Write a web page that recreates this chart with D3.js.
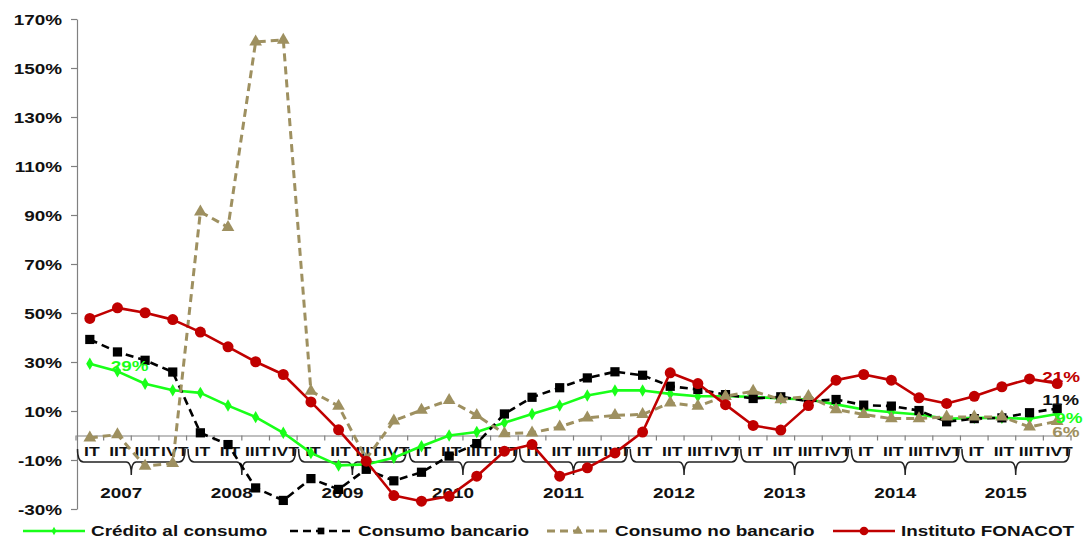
<!DOCTYPE html>
<html><head><meta charset="utf-8">
<script src="https://cdn.jsdelivr.net/npm/d3@7"></script>
<style>
body{margin:0;background:#fff}
svg{display:block}
text{font-family:"Liberation Sans",Arial,sans-serif;font-weight:bold;fill:#111}
</style></head><body>
<svg id="c" width="1086" height="540"></svg>
<script>
// ---- data ----
const years = ["2007","2008","2009","2010","2011","2012","2013","2014","2015"];
const quarters = ["IT","IIT","IIIT","IVT"];
const yTicks = [-30,-10,10,30,50,70,90,110,130,150,170];
const seriesNames = ["Crédito al consumo","Consumo bancario","Consumo no bancario","Instituto FONACOT"];
const credito = [29.3,26.2,21.1,18.5,17.4,12.2,7.5,1.1,-7.1,-12.2,-11.8,-9.1,-4.4,0.0,1.4,5.2,8.8,12.2,16.3,18.4,18.4,17.0,16.0,16.0,15.8,15.1,14.7,12.7,10.6,9.5,8.6,6.8,7.2,7.2,6.8,8.8];
const bancario = [39.2,34.1,30.7,25.9,1.1,-3.7,-21.4,-26.5,-17.6,-22.0,-13.8,-18.5,-15.0,-8.4,-3.3,8.8,15.6,19.5,23.5,26.0,24.6,20.1,18.8,16.7,15.1,15.8,14.0,14.7,12.4,12.0,10.2,5.6,6.9,7.2,9.3,11.0];
const noBancario = [-1.0,0.4,-12.5,-11.4,91.3,85.0,160.7,161.4,18.1,12.0,-9.5,6.0,10.4,14.4,8.2,0.8,1.1,3.5,7.2,8.2,8.6,13.3,12.0,16.0,18.1,14.7,16.0,10.6,8.6,6.9,6.9,7.6,7.6,7.6,3.5,5.8];
const fonacot = [47.8,52.1,50.1,47.3,42.2,36.2,30.1,24.9,13.7,2.3,-10.5,-24.5,-26.8,-24.8,-16.6,-6.4,-3.7,-16.6,-13.2,-7.1,1.4,25.6,21.2,12.6,4.1,2.2,12.2,22.6,24.9,22.6,15.4,13.1,16.0,19.9,23.1,21.2];

// ---- layout ----
const SX = 1.35;
const svg = d3.select("#c");
const n = credito.length;
const x = d3.scaleBand().domain(d3.range(n)).range([76,1071]).padding(0);
const bw = x.bandwidth();
const cx = i => x(i) + bw/2;
const y = d3.scaleLinear().domain([-30,170]).range([509,19]);
const y0 = y(0);

// y axis
const ya = svg.append("g").attr("transform","translate(77,0)")
  .call(d3.axisLeft(y).tickValues(yTicks).tickSize(6).tickSizeOuter(0).tickFormat(d=>d+"%"));
ya.attr("font-family",null).attr("font-size",null);
ya.select(".domain").attr("stroke","#808080").attr("stroke-width",1.2);
ya.selectAll(".tick line").attr("stroke","#808080").attr("stroke-width",1.2);
ya.selectAll(".tick text").attr("x",0).attr("dy","0.36em")
  .attr("transform",`translate(-15,0) scale(${SX},1)`).style("font-size","14px").style("fill","#111");

// x axis at zero
const xa = svg.append("g").attr("transform",`translate(0,${y0})`)
  .call(d3.axisBottom(x).tickSize(0).tickSizeOuter(0).tickFormat(i=>quarters[i%4]));
xa.attr("font-family",null).attr("font-size",null);
xa.select(".domain").attr("stroke","#808080").attr("stroke-width",1.2);
xa.selectAll(".tick text").attr("y",0).attr("dy",null)
  .attr("transform",`translate(2,20.5) scale(${SX},1)`).style("font-size","13px").style("fill","#111");
// boundary ticks
const bounds = d3.range(n+1).map(i => i<n ? x(i) : x(n-1)+bw);
svg.append("g").selectAll("line").data(bounds).join("line")
  .attr("x1",d=>d).attr("x2",d=>d).attr("y1",y0).attr("y2",y0+5)
  .attr("stroke","#808080").attr("stroke-width",1.2);

// year braces
const bg = svg.append("g");
years.forEach((yr,g)=>{
  const a = x(g*4)+1.5, b = x(g*4+3)+bw-1.5, m = (a+b)/2;
  const top = 449, mid = 462, tip = 475;
  const p = `M${a},${top} Q${a},${mid} ${a+6},${mid} L${m-5},${mid} Q${m},${mid} ${m},${tip} Q${m},${mid} ${m+5},${mid} L${b-6},${mid} Q${b},${mid} ${b},${top}`;
  bg.append("path").attr("d",p).attr("fill","none").attr("stroke","#222").attr("stroke-width",1.5);
  bg.append("text").attr("text-anchor","middle")
    .attr("transform",`translate(${m-10},498) scale(${SX},1)`).style("font-size","14px").text(yr);
});

// series
const styles = [
  {data:credito,   color:"#19ff19", dash:null,  width:2.6, sym:d3.symbolDiamond, size:45},
  {data:bancario,  color:"#000000", dash:"8,5", width:2.6, sym:d3.symbolSquare,  size:85},
  {data:noBancario,color:"#9e9060", dash:"8,5", width:3,   sym:d3.symbolTriangle,size:70},
  {data:fonacot,   color:"#c00000", dash:null,  width:2.6, sym:d3.symbolCircle,  size:95}
];
const line = d3.line().x((d,i)=>cx(i)).y(d=>y(d));
styles.forEach(s=>{
  const g = svg.append("g");
  g.append("path").attr("d",line(s.data)).attr("fill","none").attr("stroke",s.color)
    .attr("stroke-width",s.width).attr("stroke-dasharray",s.dash).attr("stroke-linejoin","round");
  g.selectAll("path.m").data(s.data).join("path").attr("class","m")
    .attr("d",d3.symbol(s.sym,s.size)).attr("fill",s.color)
    .attr("transform",(d,i)=>`translate(${cx(i)},${y(d)})`);
});

// data labels
function lab(txt,color,px,py,anchor){
  svg.append("text").attr("text-anchor",anchor||"start")
    .attr("transform",`translate(${px},${py}) scale(${SX},1)`)
    .style("font-size","14px").style("fill",color).text(txt);
}
const last = n-1;
lab(Math.round(credito[0])+"%", "#19ff19", cx(0)+21, y(credito[0])+7);
lab(Math.round(fonacot[last])+"%", "#c00000", cx(last)-15, y(fonacot[last])-2);
lab(Math.round(bancario[last])+"%", "#111", cx(last)-15, y(bancario[last])-4);
lab(Math.round(credito[last])+"%", "#19ff19", cx(last)-2, y(credito[last])+9);
lab(Math.round(noBancario[last])+"%", "#9e9060", cx(last)-5, y(noBancario[last])+16);

// legend
const legX = [23,290,547,833];
const legMk = [20,45,40,60];
const ly = 531;
styles.forEach((s,k)=>{
  const g = svg.append("g").attr("transform",`translate(${legX[k]},${ly})`);
  g.append("line").attr("x1",0).attr("x2",62).attr("y1",0).attr("y2",0)
    .attr("stroke",s.color).attr("stroke-width",s.width).attr("stroke-dasharray",s.dash);
  g.append("path").attr("d",d3.symbol(s.sym,legMk[k])).attr("fill",s.color).attr("transform","translate(31,0)");
  g.append("text").attr("transform",`translate(68,5) scale(${SX},1)`).style("font-size","14px").text(seriesNames[k]);
});
</script></body></html>
